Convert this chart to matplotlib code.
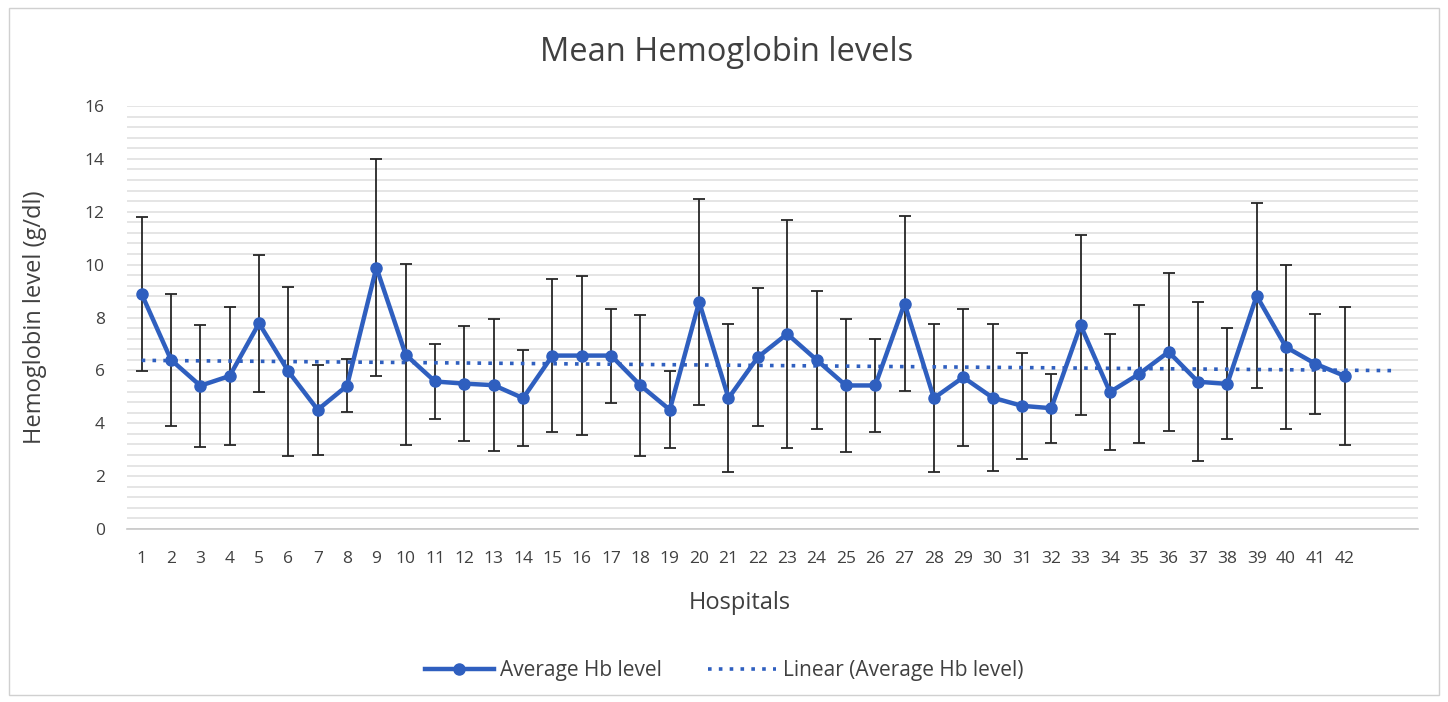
import numpy as np
import matplotlib
matplotlib.use("Agg")
import matplotlib.pyplot as plt
from matplotlib.patches import Rectangle
from matplotlib.ticker import MultipleLocator

# mean Hb level per hospital and its standard deviation
hospitals = list(range(1, 43))
mean_hb = [8.89, 6.40, 5.42, 5.79, 7.78, 5.96, 4.51, 5.42, 9.89, 6.59,
           5.58, 5.50, 5.44, 4.95, 6.56, 6.56, 6.56, 5.43, 4.51, 8.59,
           4.95, 6.50, 7.38, 6.40, 5.43, 5.43, 8.53, 4.95, 5.74, 4.97,
           4.66, 4.57, 7.71, 5.18, 5.87, 6.70, 5.57, 5.49, 8.82, 6.88,
           6.25, 5.79]
sd_hb = [2.90, 2.50, 2.30, 2.60, 2.60, 3.20, 1.70, 1.00, 4.10, 3.43,
         1.40, 2.18, 2.50, 1.82, 2.90, 3.00, 1.78, 2.67, 1.45, 3.90,
         2.80, 2.60, 4.30, 2.60, 2.50, 1.76, 3.30, 2.80, 2.60, 2.78,
         2.00, 1.30, 3.40, 2.20, 2.60, 3.00, 3.00, 2.10, 3.50, 3.10,
         1.90, 2.60]

blue = '#2F5FBF'
grey_txt = '#404040'
plt.rcParams['font.family'] = ['Open Sans', 'DejaVu Sans']

fig = plt.figure(figsize=(14.48, 7.02), dpi=100)
ax = fig.add_axes([0.0877, 0.2464, 0.8916, 0.6026])

x = np.array(hospitals)
y = np.array(mean_hb)
ax.errorbar(x, y, yerr=sd_hb, fmt='none', ecolor='#262626', elinewidth=1.3,
            capsize=4.5, capthick=1.3, zorder=3)
ax.plot(x, y, color=blue, lw=3.2, marker='o', markersize=8, zorder=4,
        label='Average Hb level')

# linear trendline, forecast forward like Excel
k, b = np.polyfit(x, y, 1)
xt = np.linspace(1, 43.8, 50)
ax.plot(xt, k * xt + b, color=blue, lw=2.6, linestyle=(0, (1, 2)), zorder=5,
        label='Linear (Average Hb level)')

ax.set_xlim(0.5, 44.5)
ax.set_ylim(0, 16)
ax.set_xticks(hospitals)
ax.set_xticklabels([str(h) for h in hospitals])
ax.yaxis.set_major_locator(MultipleLocator(2))
ax.yaxis.set_minor_locator(MultipleLocator(0.4))
ax.grid(which='both', axis='y', color='#dedede', lw=1.1)
ax.set_axisbelow(True)
for s in ['top', 'right', 'left']:
    ax.spines[s].set_visible(False)
ax.spines['bottom'].set_color('#c8c8c8')
ax.spines['bottom'].set_linewidth(1.2)
ax.tick_params(axis='both', which='both', length=0, labelsize=12.5,
               labelcolor=grey_txt)
ax.tick_params(axis='x', pad=16)
ax.tick_params(axis='y', pad=16)

fig.text(0.502, 0.925, 'Mean Hemoglobin levels', fontsize=23.5, color=grey_txt,
         ha='center', va='center')
fig.text(0.511, 0.141, 'Hospitals', fontsize=17, color=grey_txt,
         ha='center', va='center')
fig.text(0.024, 0.548, 'Hemoglobin level (g/dl)', fontsize=17, color=grey_txt,
         ha='center', va='center', rotation=90)

ax.legend(loc='center', bbox_to_anchor=(0.5, 0.045), bbox_transform=fig.transFigure,
          ncol=2, frameon=False, fontsize=15, handlelength=3.3, handletextpad=0.3,
          columnspacing=2.2, labelcolor=grey_txt)

fig.patches.append(Rectangle((0.006, 0.01), 0.988, 0.978, transform=fig.transFigure,
                             fill=False, edgecolor='#d0d0d0', lw=1))

plt.savefig('out.png', dpi=100)
